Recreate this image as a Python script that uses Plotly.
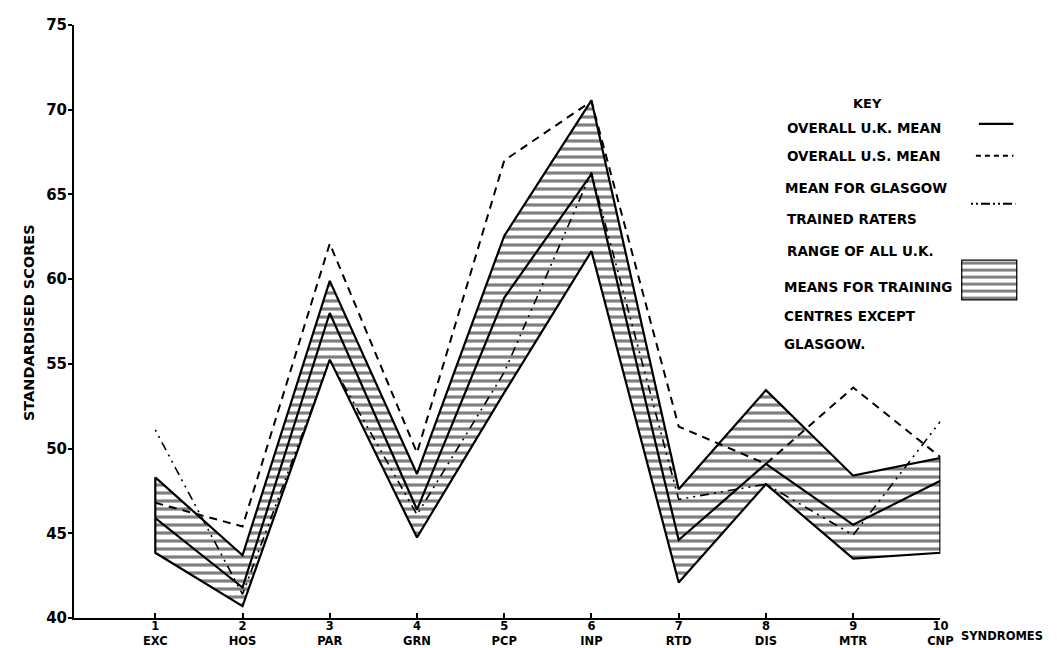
import plotly.graph_objects as go

# ---- data ----
syndrome_nums = ["1", "2", "3", "4", "5", "6", "7", "8", "9", "10"]
syndrome_codes = ["EXC", "HOS", "PAR", "GRN", "PCP", "INP", "RTD", "DIS", "MTR", "CNP"]
x_pos = [1, 2, 3, 4, 5, 6, 7, 8, 9, 10]

uk_mean = [45.9, 41.8, 58.0, 46.4, 58.9, 66.2, 44.6, 49.1, 45.5, 48.1]
us_mean = [46.8, 45.4, 62.1, 49.75, 67.0, 70.5, 51.3, 49.1, 53.6, 49.5]
glasgow_mean = [51.1, 41.4, 55.2, 46.1, 54.5, 66.3, 47.0, 47.9, 44.9, 51.6]
range_high = [48.3, 43.7, 59.9, 48.5, 62.55, 70.55, 47.6, 53.45, 48.4, 49.45]
range_low = [43.85, 40.7, 55.25, 44.75, 53.3, 61.65, 42.1, 47.9, 43.5, 43.85]

y_ticks = [40, 45, 50, 55, 60, 65, 70, 75]

# ---- geometry helpers (pixel -> paper) ----
W, H = 1057, 648
ML, MR, MT, MB = 66, 8, 16, 38
PW = W - ML - MR
PH = H - MT - MB


def px(x):
    return (x - ML) / PW


def py(y):
    return (H - MB - y) / PH


FONT = "DejaVu Sans"
fig = go.Figure()

# range polygon (hatched)
poly_x = x_pos + x_pos[::-1] + [x_pos[0]]
poly_y = range_high + range_low[::-1] + [range_high[0]]
fig.add_trace(go.Scatter(
    x=poly_x, y=poly_y, mode="lines", fill="toself",
    line=dict(color="black", width=2.2),
    fillcolor="white",
    fillpattern=dict(shape="-", size=8, solidity=0.4, fgcolor="black", bgcolor="white"),
    hoverinfo="skip", showlegend=False,
))

fig.add_trace(go.Scatter(x=x_pos, y=uk_mean, mode="lines",
                         line=dict(color="black", width=2.2), showlegend=False))
fig.add_trace(go.Scatter(x=x_pos, y=us_mean, mode="lines",
                         line=dict(color="black", width=2, dash="8px,6px"), showlegend=False))
fig.add_trace(go.Scatter(x=x_pos, y=glasgow_mean, mode="lines",
                         line=dict(color="black", width=1.6, dash="2px,5px,2px,5px,9px,5px"),
                         showlegend=False))

# legend hatched box in its own small axes
box_x0, box_x1, box_y0, box_y1 = 965, 1022, 251, 292
fig.add_trace(go.Scatter(
    x=[0, 1, 1, 0, 0], y=[0, 0, 1, 1, 0], mode="lines", fill="toself",
    line=dict(color="black", width=2.5), fillcolor="white",
    fillpattern=dict(shape="-", size=7, solidity=0.42, fgcolor="black", bgcolor="white"),
    xaxis="x2", yaxis="y2", hoverinfo="skip", showlegend=False,
))

main_right = 944
fig.update_layout(
    width=W, height=H,
    margin=dict(l=ML, r=MR, t=MT, b=MB),
    plot_bgcolor="white", paper_bgcolor="white",
    font=dict(family=FONT, color="black"),
    xaxis=dict(
        domain=[0, px(main_right)],
        range=[0.068, 10],
        tickmode="array", tickvals=x_pos,
        ticktext=[f"<b>{n}<br>{c}</b>" for n, c in zip(syndrome_nums, syndrome_codes)],
        tickfont=dict(size=11.5, family=FONT),
        ticks="inside", ticklen=5, tickwidth=1.5, tickcolor="black",
        ticklabelstandoff=-4,
        showline=True, linecolor="black", linewidth=2,
        showgrid=False, zeroline=False,
    ),
    yaxis=dict(
        range=[40, 75],
        tickmode="array", tickvals=y_ticks,
        ticktext=[f"<b>{v}</b>" for v in y_ticks],
        tickfont=dict(size=15, family=FONT),
        ticks="outside", ticklen=4, tickwidth=1.5, tickcolor="black",
        ticklabelstandoff=-2,
        showline=True, linecolor="black", linewidth=2,
        showgrid=False, zeroline=False,
    ),
    xaxis2=dict(domain=[px(box_x0), px(box_x1)], range=[0, 1], visible=False,
                anchor="y2", fixedrange=True),
    yaxis2=dict(domain=[py(box_y1), py(box_y0)], range=[0, 1], visible=False,
                anchor="x2", fixedrange=True),
)

annotations = []
annotations.append(dict(text="<b>STANDARDISED SCORES</b>", x=px(21), y=py(314),
                        xanchor="center", textangle=-90, font=dict(size=14.5)))
annotations.append(dict(text="<b>SYNDROMES</b>", x=px(963), y=py(628),
                        xanchor="left", font=dict(size=11.5)))
annotations.append(dict(text="<b>KEY</b>", x=px(870), y=py(95),
                        xanchor="center", font=dict(size=13)))

legend_texts = [
    ("OVERALL U.K. MEAN", 787, 119),
    ("OVERALL U.S. MEAN", 787, 147),
    ("MEAN FOR GLASGOW", 785, 179),
    ("TRAINED RATERS", 787, 210),
    ("RANGE OF ALL U.K.", 787, 242),
    ("MEANS FOR TRAINING", 783, 278),
    ("CENTRES EXCEPT", 783, 307),
    ("GLASGOW.", 783, 336),
]
for t, lx, ly in legend_texts:
    annotations.append(dict(text=f"<b>{t}</b>", x=px(lx), y=py(ly),
                            xanchor="left", font=dict(size=13.5)))

for a in annotations:
    a.setdefault("xref", "paper")
    a.setdefault("yref", "paper")
    a.setdefault("showarrow", False)
    a.setdefault("yanchor", "middle")
fig.update_layout(annotations=annotations)

shapes = [
    dict(type="line", x0=px(983), x1=px(1018), y0=py(115), y1=py(115),
         line=dict(color="black", width=2.2)),
    dict(type="line", x0=px(980), x1=px(1018), y0=py(147), y1=py(147),
         line=dict(color="black", width=2, dash="5px,4px")),
    dict(type="line", x0=px(975), x1=px(1020), y0=py(195), y1=py(195),
         line=dict(color="black", width=2, dash="2px,3px,2px,3px,9px,3px")),
]
for s in shapes:
    s["xref"] = "paper"
    s["yref"] = "paper"
fig.update_layout(shapes=shapes)

fig.write_html("out.html")
